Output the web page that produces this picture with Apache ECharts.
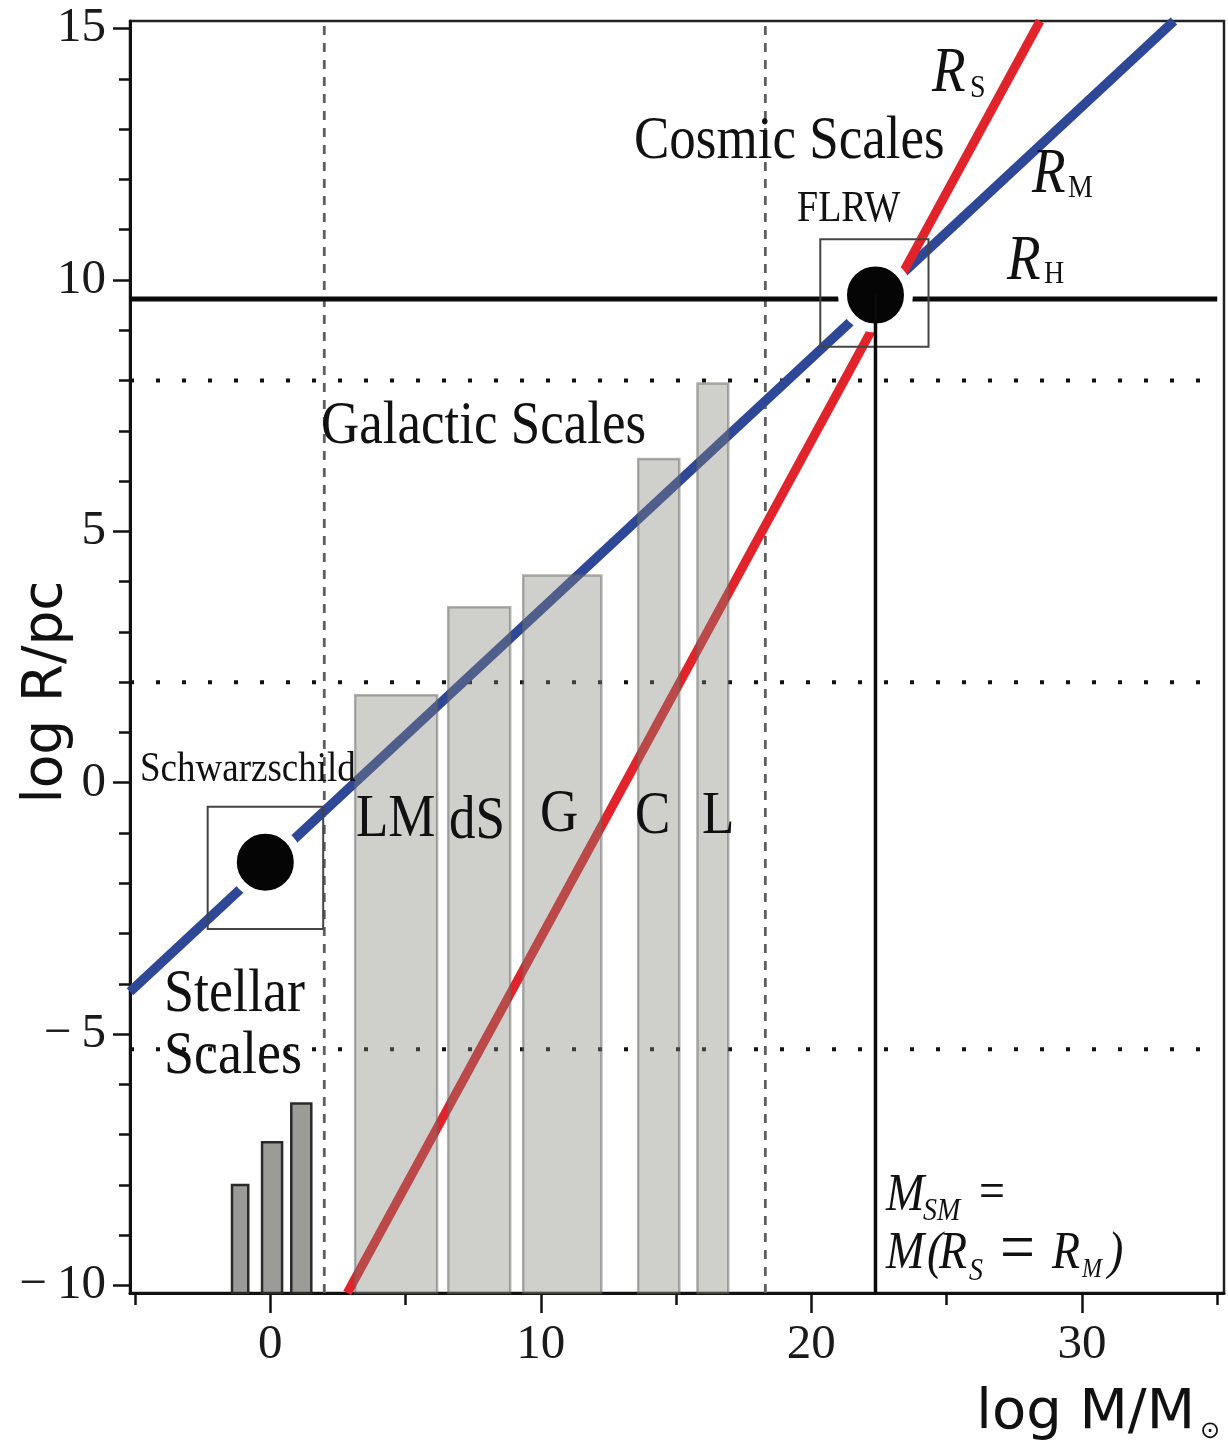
<!DOCTYPE html>
<html>
<head>
<meta charset="utf-8">
<script src="https://cdn.jsdelivr.net/npm/echarts@6/dist/echarts.min.js"></script>
<style>
html, body { margin: 0; padding: 0; background: #fff; }
#chart { width: 1228px; height: 1447px; }
</style>
</head>
<body>
<div id="chart"></div>
<script>
// axes: log M/Msun (x), log R/pc (y)
const xRange = [-5.18, 35.25];
const yRange = [-10.15, 15.15];
const xLabelTicks = [0, 10, 20, 30];
const xMinorTicks = [-5, 5, 15, 25, 35];
const yLabelTicks = [-10, -5, 0, 5, 10, 15];
const yMinorTicks = [-9, -8, -7, -6, -4, -3, -2, -1, 1, 2, 3, 4, 6, 7, 8, 9, 11, 12, 13, 14];

// galactic systems
const galaxyNames = ['LM', 'dS', 'G', 'C', 'L'];
const galaxyMassLo = [3.14, 6.58, 9.35, 13.6, 15.79];
const galaxyMassHi = [6.17, 8.87, 12.24, 15.12, 16.93];
const galaxyRadius = [1.74, 3.49, 4.12, 6.44, 7.94];

// stellar systems
const starMassLo = [-1.41, -0.30, 0.78];
const starMassHi = [-0.81, 0.44, 1.52];
const starRadius = [-8.0, -7.15, -6.38];

// R_S, R_M and R_H
const rsLine = [[2.85, -10.15], [28.45, 15.15]];
const rmLine = [[-5.18, -4.16], [33.4, 15.15]];
const rhLevel = 9.62;
const rhEnd = 35.0;

// the two special points and their boxes [x0, x1, y0, y1]
const schwarzschild = [-0.18, -1.58];
const flrw = [22.37, 9.7];
const schwarzBox = [-2.31, 1.96, -2.91, -0.48];
const flrwBox = [20.33, 24.33, 8.67, 10.81];

// scale boundaries
const massBounds = [2.0, 18.3];
const radiusBounds = [8.0, 2.0, -5.3];
const boundEnd = 34.6;

const serif = 'Liberation Serif';
const sans = 'DejaVu Sans';

function rectSeries(name, data, style, z) {
  return {
    name: name,
    type: 'custom',
    z: z,
    data: data,
    renderItem: function (params, api) {
      const p0 = api.coord([api.value(0), api.value(2)]);
      const p1 = api.coord([api.value(1), api.value(3)]);
      return {
        type: 'rect',
        shape: {
          x: Math.min(p0[0], p1[0]),
          y: Math.min(p0[1], p1[1]),
          width: Math.abs(p1[0] - p0[0]),
          height: Math.abs(p1[1] - p0[1]),
        },
        style: style,
      };
    },
  };
}

function seg(name, data, lineStyle, z) {
  return {
    name: name,
    type: 'line',
    z: z,
    data: data,
    symbol: 'none',
    silent: true,
    lineStyle: lineStyle,
  };
}

// the source figure is a bit stretched vertically, so text gets scaleY
function txt(x, y, text, size, opts) {
  opts = opts || {};
  return {
    type: 'text',
    x: x,
    y: y,
    z: 100,
    rotation: opts.rotation || 0,
    scaleY: opts.sy || 1.15,
    style: {
      text: text,
      fontSize: size,
      fontFamily: opts.family || serif,
      fontStyle: opts.italic ? 'italic' : 'normal',
      fill: opts.color || '#111',
      align: opts.align || 'left',
      verticalAlign: 'middle',
    },
  };
}

const galaxyData = galaxyNames.map((n, i) => [galaxyMassLo[i], galaxyMassHi[i], yRange[0], galaxyRadius[i]]);
const starData = starMassLo.map((v, i) => [v, starMassHi[i], yRange[0], starRadius[i]]);

const series = [];
massBounds.forEach((m, i) => {
  series.push(seg('mass' + i, [[m, yRange[0]], [m, yRange[1]]],
    { color: '#5e5e5e', width: 2.8, type: [9, 8] }, 1));
});
radiusBounds.forEach((r, i) => {
  series.push(seg('radius' + i, [[xRange[0], r], [boundEnd, r]],
    { color: '#111', width: 4, type: [4, 22], cap: 'butt' }, 1));
});
series.push(seg('RM', rmLine, { color: '#2f4797', width: 9.5 }, 2));
series.push(seg('RS', rsLine, { color: '#e1242b', width: 9 }, 2));
series.push(seg('RH', [[xRange[0], rhLevel], [rhEnd, rhLevel]], { color: '#0a0a0a', width: 5 }, 2));
// light bars are see-through, lines show muted underneath
series.push(rectSeries('galaxies', galaxyData,
  { fill: 'rgba(132,132,122,0.39)', stroke: 'rgba(100,100,96,0.5)', lineWidth: 2.5 }, 3));
series.push(rectSeries('stars', starData,
  { fill: '#9b9b98', stroke: '#2a2a2a', lineWidth: 2.5 }, 3));
series.push(rectSeries('boxes', [schwarzBox, flrwBox],
  { fill: 'none', stroke: '#444', lineWidth: 2 }, 4));
series.push({
  name: 'points',
  type: 'scatter',
  z: 5,
  silent: true,
  symbol: 'circle',
  symbolSize: 66,
  data: [schwarzschild, flrw],
  itemStyle: { color: '#050505', borderColor: '#fff', borderWidth: 9, opacity: 1 },
});
series.push(seg('MSM', [[flrw[0], flrw[1]], [flrw[0], yRange[0]]], { color: '#0a0a0a', width: 3.5 }, 6));

const tickStyle = { color: '#111', width: 2.5 };

const option = {
  animation: false,
  backgroundColor: '#fff',
  grid: {
    left: 130, right: 4, top: 21, bottom: 154,
    show: true, borderColor: '#222', borderWidth: 2.5,
  },
  xAxis: [
    {
      type: 'value', min: xRange[0], max: xRange[1], position: 'bottom',
      axisLine: { onZero: false, lineStyle: { color: '#111', width: 3 } },
      axisTick: { customValues: xLabelTicks, length: 20, lineStyle: tickStyle },
      axisLabel: {
        customValues: xLabelTicks, margin: 28, color: '#1a1a1a',
        fontFamily: serif, fontSize: 49,
      },
      splitLine: { show: false },
    },
    {
      type: 'value', min: xRange[0], max: xRange[1], position: 'bottom',
      axisLine: { show: false, onZero: false },
      axisTick: { customValues: xMinorTicks, length: 12, lineStyle: tickStyle },
      axisLabel: { show: false },
      splitLine: { show: false },
    },
  ],
  yAxis: [
    {
      type: 'value', min: yRange[0], max: yRange[1], position: 'left',
      axisLine: { onZero: false, lineStyle: { color: '#111', width: 3 } },
      axisTick: { customValues: yLabelTicks, length: 17, lineStyle: tickStyle },
      axisLabel: {
        customValues: yLabelTicks, margin: 24, color: '#1a1a1a',
        fontFamily: serif, fontSize: 49,
        formatter: v => (v < 0 ? '\u2212\u2009' + Math.abs(v) : String(v)),
      },
      splitLine: { show: false },
    },
    {
      type: 'value', min: yRange[0], max: yRange[1], position: 'left',
      axisLine: { show: false, onZero: false },
      axisTick: { customValues: yMinorTicks, length: 11, lineStyle: tickStyle },
      axisLabel: { show: false },
      splitLine: { show: false },
    },
  ],
  series: series,
  graphic: [
    txt(47, 692, 'log R/pc', 55, { family: sans, rotation: Math.PI / 2, align: 'center', sy: 1 }),
    txt(1195, 1413, 'log M/M', 56, { family: sans, align: 'right', sy: 1 }),
    txt(1200, 1432, '\u2299', 24, { family: sans, sy: 1 }),

    txt(634, 142, 'Cosmic Scales', 53),
    txt(321, 427, 'Galactic Scales', 53),
    txt(164, 995, 'Stellar', 54),
    txt(164, 1057, 'Scales', 54),
    txt(140, 770, 'Schwarzschild', 37),
    txt(797, 210, 'FLRW', 38),
    txt(356, 820, galaxyNames[0], 53),
    txt(449, 822, galaxyNames[1], 53),
    txt(540, 815, galaxyNames[2], 53),
    txt(635, 817, galaxyNames[3], 53),
    txt(702, 817, galaxyNames[4], 53),

    txt(932, 74, 'R', 55, { italic: true }),
    txt(970, 89, 'S', 28),
    txt(1032, 175, 'R', 55, { italic: true }),
    txt(1068, 189, 'M', 28),
    txt(1007, 262, 'R', 55, { italic: true }),
    txt(1044, 275, 'H', 28),

    txt(886, 1196, 'M', 46, { italic: true }),
    txt(923, 1212, 'SM', 28, { italic: true }),
    txt(979, 1194, '=', 46),
    txt(886, 1254, 'M', 46, { italic: true }),
    txt(927, 1254, '(', 46, { italic: true }),
    txt(939, 1254, 'R', 46, { italic: true }),
    txt(969, 1272, 'S', 28, { italic: true }),
    txt(1000, 1252, '=', 62),
    txt(1052, 1254, 'R', 46, { italic: true }),
    txt(1082, 1270, 'M', 24, { italic: true }),
    txt(1108, 1254, ')', 46, { italic: true }),
  ],
};

const chart = echarts.init(document.getElementById('chart'));
chart.setOption(option);
</script>
</body>
</html>
